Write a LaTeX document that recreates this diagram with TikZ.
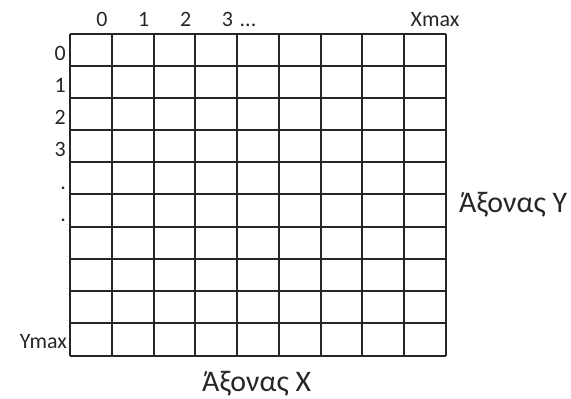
\documentclass[tikz,border=0pt]{standalone}
\usepackage{fontspec}
\setmainfont{Carlito}
\usetikzlibrary{positioning}

\begin{document}
\begin{tikzpicture}[x=1bp,y=-1bp,
  gridline/.style={line width=1.8bp,black!85},
  lab/.style={font=\fontsize{22}{22}\selectfont,inner sep=0pt,text=black!85},
  axislab/.style={font=\fontsize{30}{30}\selectfont,inner sep=0pt,text=black!85}]
  \useasboundingbox (0,0) rectangle (571,398);
  % grid cells
  \foreach \x in {70,112,154,195,237,279,321,362,404,446}{
    \draw[gridline] (\x,34) -- (\x,356);
  }
  \foreach \y in {34,66,98,130,162,194,227,259,291,323,356}{
    \draw[gridline] (70,\y) -- (446,\y);
  }
  % column indices
  \foreach \i in {0,1,2,3}{
    \node[lab,anchor=base] (cx\i) at ({102+\i*41.78},26) {\i};
  }
  \node[lab,anchor=base] (cdots) at (248,26) {...};
  \node[lab,anchor=base] (xmax) at (435,26) {Xmax};
  % row indices
  \foreach \j/\lab in {0/0,1/1,2/2,3/3,4/.,5/.}{
    \node[lab,anchor=base east] (ry\j) at (66,{34+(\j+1)*32.2-6}) {\lab};
  }
  \node[lab,anchor=base east] (ymax) at (67,348) {Ymax};
  % axis titles
  \node[axislab,anchor=base west] (axisy) at (459,212) {Άξονας Υ};
  \node[axislab,anchor=base west] (axisx) at (202,391) {Άξονας Χ};
\end{tikzpicture}
\end{document}
